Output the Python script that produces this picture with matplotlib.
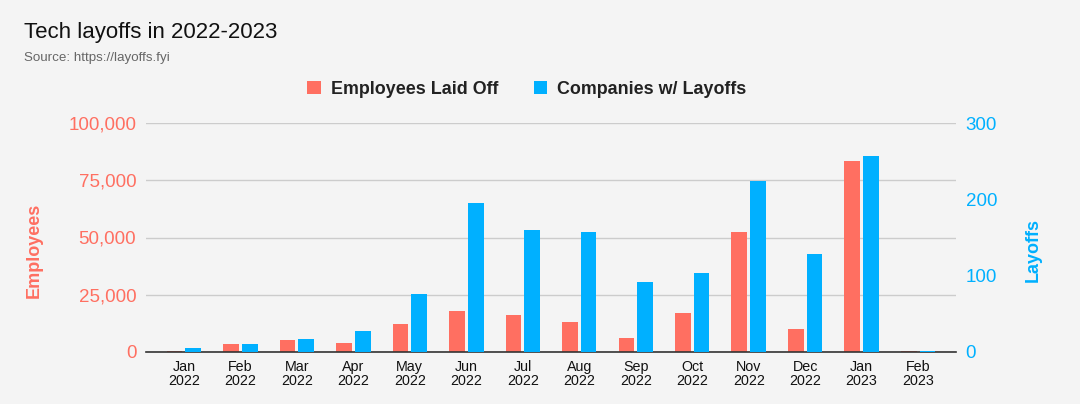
import matplotlib
matplotlib.use("Agg")
import matplotlib.pyplot as plt
import numpy as np
from matplotlib.patches import Patch
from matplotlib.ticker import FuncFormatter

plt.rcParams['font.family'] = ['Liberation Sans', 'DejaVu Sans']

months = ["Jan\n2022", "Feb\n2022", "Mar\n2022", "Apr\n2022", "May\n2022", "Jun\n2022",
          "Jul\n2022", "Aug\n2022", "Sep\n2022", "Oct\n2022", "Nov\n2022", "Dec\n2022",
          "Jan\n2023", "Feb\n2023"]
employees = [510, 3500, 5400, 4100, 12400, 18100, 16000, 13000, 6000, 17000, 52300, 9900, 83600, 400]
companies = [5, 10, 17, 27, 76, 195, 160, 157, 92, 104, 224, 129, 257, 1]

RED = "#FF6F61"
BLUE = "#00B0FF"
BG = "#F4F4F4"

fig = plt.figure(figsize=(10.8, 4.04), dpi=100, facecolor=BG)
ax = fig.add_axes([146 / 1080, 1 - 352 / 404, 810 / 1080, 229 / 404])
ax.set_facecolor(BG)
ax2 = ax.twinx()

x = np.arange(len(months))
w = 0.28
off = 0.165
ax.bar(x - off, employees, w, color=RED, zorder=3)
ax2.bar(x + off, companies, w, color=BLUE, zorder=3)

ax.set_xlim(-0.67, len(months) - 0.33)
ax.set_ylim(0, 100000)
ax2.set_ylim(0, 300)
ax.set_yticks([0, 25000, 50000, 75000, 100000])
ax2.set_yticks([0, 100, 200, 300])
ax.yaxis.set_major_formatter(FuncFormatter(lambda v, p: f"{int(v):,}"))

ax.grid(axis='y', color='#CCCCCC', linewidth=1, zorder=0)
ax.set_axisbelow(True)
for a in (ax, ax2):
    for s in a.spines.values():
        s.set_visible(False)
ax.spines['bottom'].set_visible(True)
ax.spines['bottom'].set_color('#333333')
ax.spines['bottom'].set_linewidth(1.2)
ax.spines['bottom'].set_zorder(5)

ax.set_xticks(x)
ax.set_xticklabels(months, fontsize=10.3, linespacing=0.95, color='#111111')
ax.tick_params(axis='x', length=0, pad=6)
ax.tick_params(axis='y', length=0, pad=7, labelsize=13.5, labelcolor=RED)
ax2.tick_params(axis='y', length=0, pad=7, labelsize=13.5, labelcolor=BLUE)

ax.set_ylabel("Employees", fontsize=13, fontweight='bold', color=RED)
ax.yaxis.set_label_coords(-0.128, 0.445)
ax2.set_ylabel("Layoffs", fontsize=13, fontweight='bold', color=BLUE, rotation=90)
ax2.yaxis.set_label_coords(1.085, 0.445)

fig.text(24 / 1080, 1 - 38 / 404, "Tech layoffs in 2022-2023", fontsize=16,
         color='#111111', va='baseline', ha='left')
fig.text(24 / 1080, 1 - 61 / 404, "Source: https://layoffs.fyi", fontsize=9.6,
         color='#666666', va='baseline', ha='left')

handles = [Patch(facecolor=RED, label="Employees Laid Off"),
           Patch(facecolor=BLUE, label="Companies w/ Layoffs")]
fig.legend(handles=handles, loc='center', bbox_to_anchor=(527 / 1080, 1 - 89 / 404), ncol=2,
           frameon=False, handlelength=0.75, handleheight=0.75, handletextpad=0.55,
           columnspacing=2.0, prop={'size': 12.9, 'weight': 'bold'}, labelcolor='#222222')

fig.savefig("out.png", dpi=100, facecolor=BG)
